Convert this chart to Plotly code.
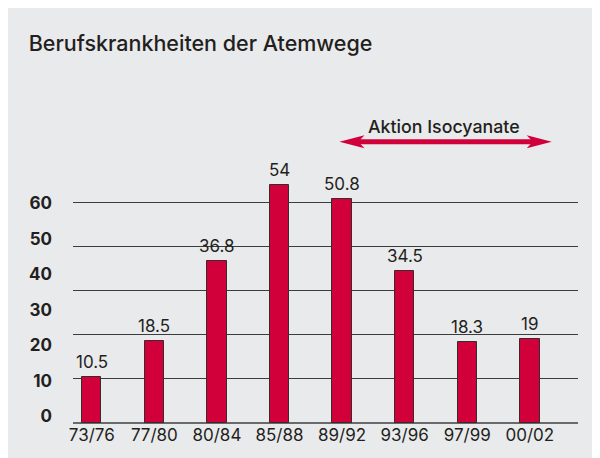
import plotly.graph_objects as go

# Berufskrankheiten der Atemwege
periods = ["73/76", "77/80", "80/84", "85/88", "89/92", "93/96", "97/99", "00/02"]
cases = [10.5, 18.5, 36.8, 54, 50.8, 34.5, 18.3, 19]
scale_labels = [0, 10, 20, 30, 40, 50, 60]

red = "#d2003a"
ink = "#231f20"
font = "Inter, Liberation Sans, Arial, sans-serif"

fig = go.Figure()
fig.add_trace(go.Bar(x=periods, y=cases, width=0.31,
                     marker_color=red,
                     marker_line=dict(color="#3a2a2a", width=1),
                     hoverinfo="x+y"))
# carries the left scale (its labels are not aligned with the grid in the original)
fig.add_trace(go.Scatter(x=[periods[0]] * len(scale_labels), y=scale_labels,
                         yaxis="y2", mode="markers", marker_opacity=0,
                         hoverinfo="skip", showlegend=False))

# value labels on top of the bars
for p, v in zip(periods, cases):
    fig.add_annotation(x=p, y=v, text=f"{v:g}", showarrow=False,
                       yanchor="bottom", yshift=3,
                       font=dict(family=font, size=17, color=ink))

# double arrow "Aktion Isocyanate"
ax0, ax1, ay = 0.5276, 0.948, 0.871
fig.add_shape(type="line", xref="paper", yref="paper",
              x0=ax0 + 0.03, x1=ax1 - 0.03, y0=ay, y1=ay,
              line=dict(color=red, width=5))
fig.add_shape(type="path", xref="paper", yref="paper",
              xsizemode="pixel", ysizemode="pixel", xanchor=ax1, yanchor=ay,
              path="M0,0 L-25,6.5 L-19,0 L-25,-6.5 Z",
              fillcolor=red, line_width=0)
fig.add_shape(type="path", xref="paper", yref="paper",
              xsizemode="pixel", ysizemode="pixel", xanchor=ax0, yanchor=ay,
              path="M0,0 L25,6.5 L19,0 L25,-6.5 Z",
              fillcolor=red, line_width=0)
fig.add_annotation(xref="paper", yref="paper", x=0.7356, y=0.918,
                   text="Aktion Isocyanate", showarrow=False,
                   xanchor="center", yanchor="middle",
                   font=dict(family=font, size=17.8, color=ink, weight=500))

# page body adds 8px around the figure, so the figure is 8px smaller
fig.update_layout(
    width=592, height=450,
    margin=dict(l=65, r=22, t=92, b=35),
    paper_bgcolor="#e9eaec",
    plot_bgcolor="rgba(0,0,0,0)",
    showlegend=False,
    bargap=0,
    title=dict(text="Berufskrankheiten der Atemwege",
               x=0.035, xanchor="left", y=0.922, yanchor="middle",
               font=dict(family=font, size=21.5, color=ink, weight=500)),
    xaxis=dict(type="category", range=[-0.30, 7.77],
               showgrid=False, showline=False, ticks="",
               tickfont=dict(family=font, size=17, color=ink)),
    yaxis=dict(range=[0, 73.15], tickvals=[0, 10, 20, 30, 40, 50],
               showticklabels=False, ticks="",
               showgrid=True, gridcolor="#3c3c3c", gridwidth=1,
               zeroline=True, zerolinecolor="#6a6a6a", zerolinewidth=1.5),
    yaxis2=dict(overlaying="y", side="left", range=[-1.97, 89.1],
                tickvals=scale_labels, showgrid=False, zeroline=False,
                ticks="", ticklabelstandoff=20,
                tickfont=dict(family=font, size=17, color=ink, weight="bold")),
)

fig.write_html("out.html")
